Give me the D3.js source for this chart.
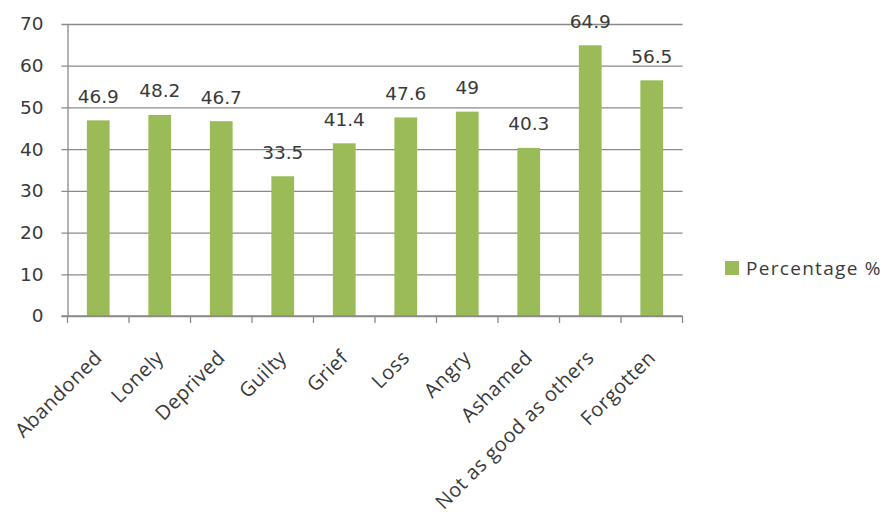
<!DOCTYPE html>
<html>
<head>
<meta charset="utf-8">
<script src="https://cdn.jsdelivr.net/npm/d3@7"></script>
<style>
  html, body { margin: 0; padding: 0; background: #fff; }
  svg { display: block; }
</style>
</head>
<body>
<svg id="chart" width="888" height="515"></svg>
<script>
// Feelings reported, as a percentage of respondents
const categories = ["Abandoned", "Lonely", "Deprived", "Guilty", "Grief", "Loss", "Angry", "Ashamed", "Not as good as others", "Forgotten"];
const percentages = [46.9, 48.2, 46.7, 33.5, 41.4, 47.6, 49, 40.3, 64.9, 56.5];
const yTicks = [0, 10, 20, 30, 40, 50, 60, 70];
const seriesName = "Percentage %";

const barColor = "#9bbb59";
const gridColor = "#8a8a8a";
const textColor = "#3a3a3a";
const numberFont = "DejaVu Sans, Verdana, sans-serif";
const labelFont = "Open Sans, Lato, sans-serif";

const svg = d3.select("#chart");
const plot = { left: 67.5, right: 682.5, top: 24, bottom: 316 };

const x = d3.scaleBand()
  .domain(categories)
  .range([plot.left, plot.right])
  .paddingInner(0.63)
  .paddingOuter(0.315);

const xBand = d3.scaleBand().domain(categories).range([plot.left, plot.right]);

const y = d3.scaleLinear().domain([0, 70]).range([plot.bottom, plot.top]);

// horizontal gridlines with short ticks to the left of the axis
const yAxis = d3.axisLeft(y)
  .tickValues(yTicks)
  .tickSize(-(plot.right - plot.left))
  .tickSizeOuter(0)
  .tickPadding(24)
  .tickFormat(d3.format("d"));

const gy = svg.append("g")
  .attr("transform", `translate(${plot.left},0)`)
  .call(yAxis);
gy.select(".domain").attr("stroke", gridColor).attr("stroke-width", 1.3);
gy.selectAll(".tick line")
  .attr("stroke", gridColor)
  .attr("stroke-width", 1.3)
  .attr("x1", -6);
gy.selectAll(".tick text")
  .attr("fill", textColor)
  .attr("font-family", numberFont)
  .attr("font-size", 18.5);

// bars
svg.append("g").selectAll("rect")
  .data(categories)
  .join("rect")
  .attr("x", d => x(d))
  .attr("width", x.bandwidth())
  .attr("y", (d, i) => y(percentages[i]))
  .attr("height", (d, i) => y(0) - y(percentages[i]))
  .attr("fill", barColor);

// x axis with ticks between categories
const boundaries = categories.map(d => xBand(d)).concat([plot.right]);
const gx = svg.append("g");
gx.append("line")
  .attr("x1", plot.left - 6).attr("x2", plot.right)
  .attr("y1", y(0)).attr("y2", y(0))
  .attr("stroke", gridColor).attr("stroke-width", 1.5);
gx.selectAll("line.tk")
  .data(boundaries)
  .join("line")
  .attr("class", "tk")
  .attr("x1", d => d).attr("x2", d => d)
  .attr("y1", y(0)).attr("y2", y(0) + 7)
  .attr("stroke", gridColor).attr("stroke-width", 1.3);

// rotated category labels
gx.selectAll("text")
  .data(categories)
  .join("text")
  .attr("transform", d => `translate(${xBand(d) + xBand.bandwidth() / 2 + 5},${y(0) + 43}) rotate(-45)`)
  .attr("text-anchor", "end")
  .attr("fill", textColor)
  .attr("font-family", labelFont)
  .attr("font-size", 20)
  .attr("letter-spacing", 0.5)
  .text(d => d);

// value labels above bars
svg.append("g").selectAll("text")
  .data(categories)
  .join("text")
  .attr("x", d => x(d) + x.bandwidth() / 2)
  .attr("y", (d, i) => y(percentages[i]) - 17.5)
  .attr("text-anchor", "middle")
  .attr("fill", textColor)
  .attr("font-family", numberFont)
  .attr("font-size", 18.5)
  .text((d, i) => percentages[i]);

// legend
const legend = svg.append("g").attr("transform", "translate(725,261)");
legend.append("rect").attr("width", 14).attr("height", 14).attr("fill", barColor);
legend.append("text")
  .attr("x", 21).attr("y", 13.5)
  .attr("fill", textColor)
  .attr("font-family", labelFont)
  .attr("font-size", 19)
  .attr("letter-spacing", 1.3)
  .text(seriesName);
</script>
</body>
</html>
